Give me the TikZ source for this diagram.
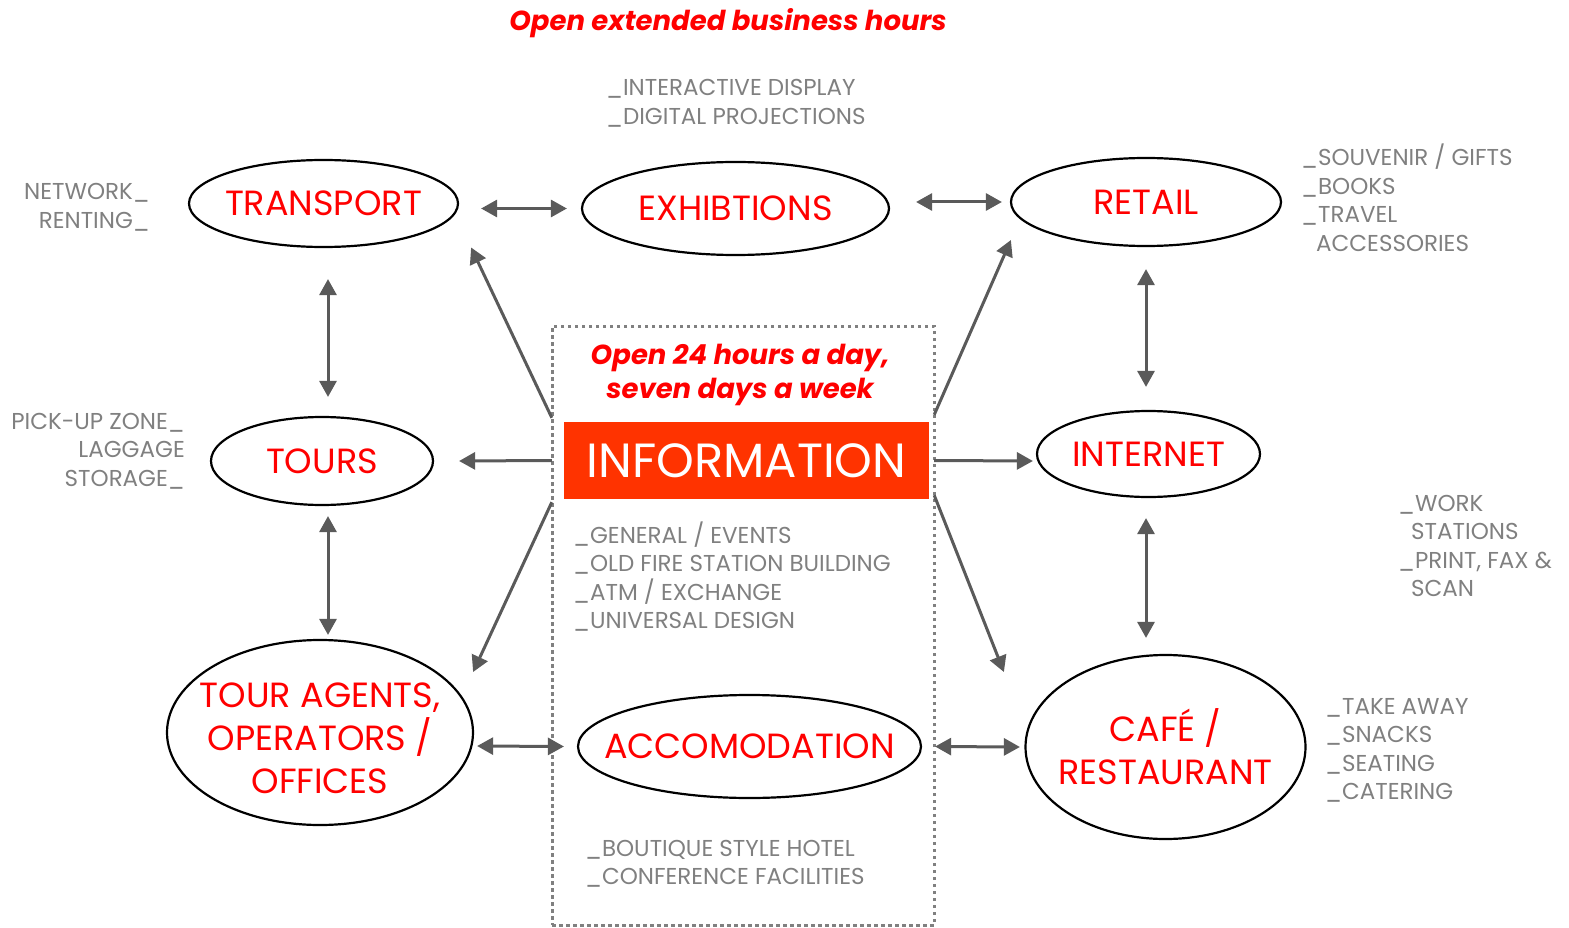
\documentclass[tikz,border=0pt]{standalone}
\usepackage{fontspec}
\setmainfont{Poppins}
\usetikzlibrary{shapes.geometric,arrows.meta}
\definecolor{hotred}{HTML}{FF0000}
\definecolor{infored}{HTML}{FF3300}
\definecolor{notegrey}{HTML}{808080}
\definecolor{linkgrey}{HTML}{5A5A5A}
\tikzset{
  venuetext/.style={text=hotred, font=\fontsize{35}{43}\selectfont, align=center, inner sep=0pt},
  venue/.style={ellipse, draw=black, line width=2.2pt, inner sep=0pt},
  note/.style={text=notegrey, font=\fontsize{23}{28.5}\selectfont, inner sep=0pt},
  notel/.style={note, align=left, anchor=base west},
  noter/.style={note, align=right, anchor=base east},
  slogan/.style={text=hotred, font=\fontsize{27.5}{34}\selectfont\bfseries\itshape,
    inner sep=0pt, align=center},
  tip/.tip={Triangle[length=16pt,width=17pt]},
  link/.style={draw=linkgrey, line width=3pt, -tip},
  both/.style={draw=linkgrey, line width=3pt, tip-tip},
}
\begin{document}
\begin{tikzpicture}[x=1pt,y=-1pt]
\useasboundingbox (0,0) rectangle (1569,928);

% dotted zone around the information desk
\node[draw=notegrey, line width=3pt, dash pattern=on 3.5pt off 3.5pt,
  minimum width=382pt, minimum height=599pt, inner sep=0pt] (zone) at (743,625.5) {};
\node[fill=infored, text=white, minimum width=365pt, minimum height=77pt, inner sep=0pt,
  font=\fontsize{48}{48}\selectfont] (info) at (746.5,460.5) {INFORMATION};

% headings
\node[slogan] (hours) at (728,23) {Open extended business hours};
\node[slogan] (allday) at (740,375) {Open 24 hours a day,\\seven days a week};

% services: the ellipse keeps its own size, the name sits at its centre
\node[venue, minimum width=269pt, minimum height=87pt,
  label={[venuetext]center:TRANSPORT}] (transport) at (323.5,203.5) {};
\node[venue, minimum width=307pt, minimum height=93pt,
  label={[venuetext]center:EXHIBTIONS}] (exhib) at (735.5,208.5) {};
\node[venue, minimum width=270pt, minimum height=88pt,
  label={[venuetext]center:RETAIL}] (retail) at (1146,202) {};
\node[venue, minimum width=222pt, minimum height=88pt,
  label={[venuetext]center:TOURS}] (tours) at (322,461) {};
\node[venue, minimum width=223pt, minimum height=86pt,
  label={[venuetext]center:INTERNET}] (internet) at (1148.5,454) {};
\node[venue, minimum width=306pt, minimum height=185pt,
  label={[venuetext, yshift=-6pt]center:{TOUR AGENTS,\\OPERATORS /\\OFFICES}}] (agents) at (320,732.5) {};
\node[venue, minimum width=343pt, minimum height=103pt,
  label={[venuetext]center:ACCOMODATION}] (accom) at (749.5,746.5) {};
\node[venue, minimum width=280pt, minimum height=184pt,
  label={[venuetext]center:{CAFÉ /\\RESTAURANT}}] (cafe) at (1165.5,747) {};

% notes (anchored on the baseline of their last line)
\node[notel] (exhibnote) at (606,124.5) {\_INTERACTIVE DISPLAY\\\_DIGITAL PROJECTIONS};
\node[noter] (transnote) at (150,228.5) {NETWORK\_\\RENTING\_};
\node[notel] (retailnote) at (1301,251.5)
  {\_SOUVENIR / GIFTS\\\_BOOKS\\\_TRAVEL\\\hspace*{15pt}ACCESSORIES};
\node[noter] (toursnote) at (185,486)
  {PICK-UP ZONE\_\\LAGGAGE\hspace*{8pt}\\STORAGE\_};
\node[notel] (infonote) at (573,628.5)
  {\_GENERAL / EVENTS\\\_OLD FIRE STATION BUILDING\\\_ATM / EXCHANGE\\\_UNIVERSAL DESIGN};
\node[notel] (netnote) at (1398,596.5)
  {\_WORK\\\hspace*{13pt}STATIONS\\\_PRINT, FAX \&\\\hspace*{13pt}SCAN};
\node[notel] (cafenote) at (1325,799.5)
  {\_TAKE AWAY\\\_SNACKS\\\_SEATING\\\_CATERING};
\node[notel] (accomnote) at (585,884.5)
  {\_BOUTIQUE STYLE HOTEL\\\_CONFERENCE FACILITIES};

% two-way links between neighbouring services
\draw[both] ([shift={(22,5)}]transport.east) -- ([shift={(-14,0)}]exhib.west);
\draw[both] ([shift={(26,-6.5)}]exhib.east) -- ([shift={(-8,0)}]retail.west);
\draw[both] ([shift={(4.5,31)}]transport.south) -- ([shift={(6,-19)}]tours.north);
\draw[both] ([shift={(6,10)}]tours.south) -- ([shift={(8,-4)}]agents.north);
\draw[both] ([shift={(0,22)}]retail.south) -- ([shift={(-2.5,-23)}]internet.north);
\draw[both] ([shift={(-2.5,20)}]internet.south) -- ([shift={(-19.5,-16)}]cafe.north);
\draw[both] ([shift={(3,13.5)}]agents.east) -- ([shift={(-13,0)}]accom.west);
\draw[both] ([shift={(13,0)}]accom.east) -- ([shift={(-4.5,0)}]cafe.west);

% links out of the information desk
\draw[link] ([shift={(-12,0)}]info.west) -- ([shift={(25,0)}]tours.east);
\draw[link] ([shift={(5,0)}]info.east) -- ([shift={(-3,7)}]internet.west);
\draw[link] ([shift={(-12,-4)}]info.north west) -- ([shift={(12,44)}]transport.east);
\draw[link] ([shift={(-12,3)}]info.south west) -- ([shift={(-1,-60.5)}]agents.east);
\draw[link] ([shift={(5,-7)}]info.north east) -- ([shift={(1,38)}]retail.west);
\draw[link] ([shift={(5,-4)}]info.south east) -- ([shift={(-20.5,-75)}]cafe.west);
\end{tikzpicture}
\end{document}
